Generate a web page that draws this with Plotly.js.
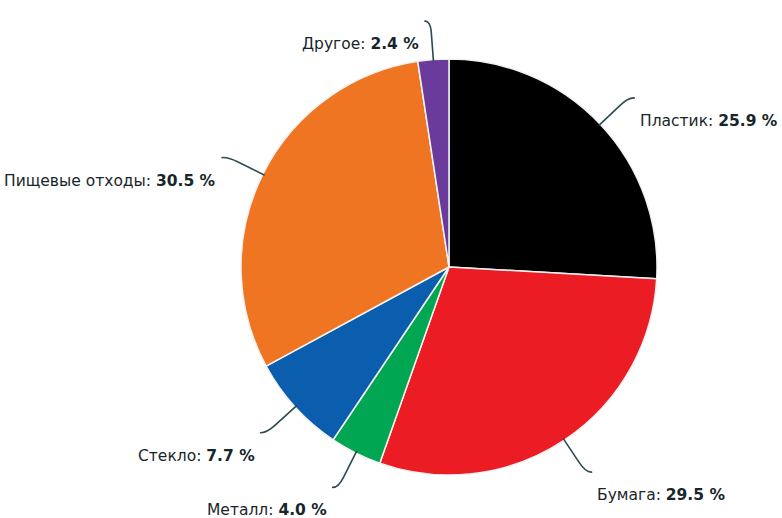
<!DOCTYPE html>
<html><head><meta charset="utf-8">
<script src="https://cdn.plot.ly/plotly-3.0.1.min.js"></script>
<style>html,body{margin:0;padding:0;background:#fff}#chart{width:782px;height:518px}</style>
</head><body><div id="chart"></div>
<script>
const categories = ["Пластик", "Бумага", "Металл", "Стекло", "Пищевые отходы", "Другое"];
const values = [25.9, 29.5, 4.0, 7.7, 30.5, 2.4];
const colors = ["#000000", "#ec1c24", "#00a651", "#0b5dae", "#f07522", "#6a3b9c"];

const W = 782, H = 518;
const cx = 449, cy = 267, R = 208;
const domX = [(cx - R) / W, (cx + R) / W];
const domY = [1 - (cy + R) / H, 1 - (cy - R) / H];

const total = values.reduce((a, b) => a + b, 0);
const shapes = [], annotations = [];
let cum = 0;
const toP = (x, y) => [(x / W).toFixed(5), (1 - y / H).toFixed(5)];
values.forEach((v, i) => {
  const mid = (cum + v / 2) / total * 2 * Math.PI;
  cum += v;
  const s = Math.sin(mid), c = Math.cos(mid);
  const pt = r => [cx + R * r * s, cy - R * r * c];
  const sx = s >= 0 ? 1 : -1;
  const p0 = pt(0.99), pa = pt(1.13), pb = pt(1.19);
  const p2 = [pb[0] + sx * 6, pb[1] + (c > 0 ? 1 : -1) * 1];
  const P = a => toP(a[0], a[1]).join(",");
  shapes.push({
    type: "path", xref: "paper", yref: "paper",
    path: `M${P(p0)} L${P(pa)} Q${P(pb)} ${P(p2)}`,
    line: {color: "#2b4a52", width: 1.6}
  });
  const lx = p2[0] + sx * 3, ly = p2[1] + 23;
  annotations.push({
    xref: "paper", yref: "paper",
    x: lx / W, y: 1 - ly / H,
    xanchor: sx > 0 ? "left" : "right", yanchor: "middle",
    showarrow: false,
    text: categories[i] + ": <b>" + v.toFixed(1) + " %</b>",
    font: {family: "DejaVu Sans", size: 15.5, color: "#17262b"}
  });
});

const data = [{
  type: "pie",
  labels: categories,
  values: values,
  sort: false,
  direction: "clockwise",
  rotation: 0,
  textinfo: "none",
  hoverinfo: "label+value",
  marker: {colors: colors, line: {color: "#f2f2f2", width: 1.5}},
  domain: {x: domX, y: domY}
}];
const layout = {
  width: W, height: H,
  margin: {l: 0, r: 0, t: 0, b: 0},
  paper_bgcolor: "#ffffff",
  showlegend: false,
  shapes: shapes,
  annotations: annotations
};
Plotly.newPlot("chart", data, layout, {displayModeBar: false, staticPlot: true});
</script></body></html>
